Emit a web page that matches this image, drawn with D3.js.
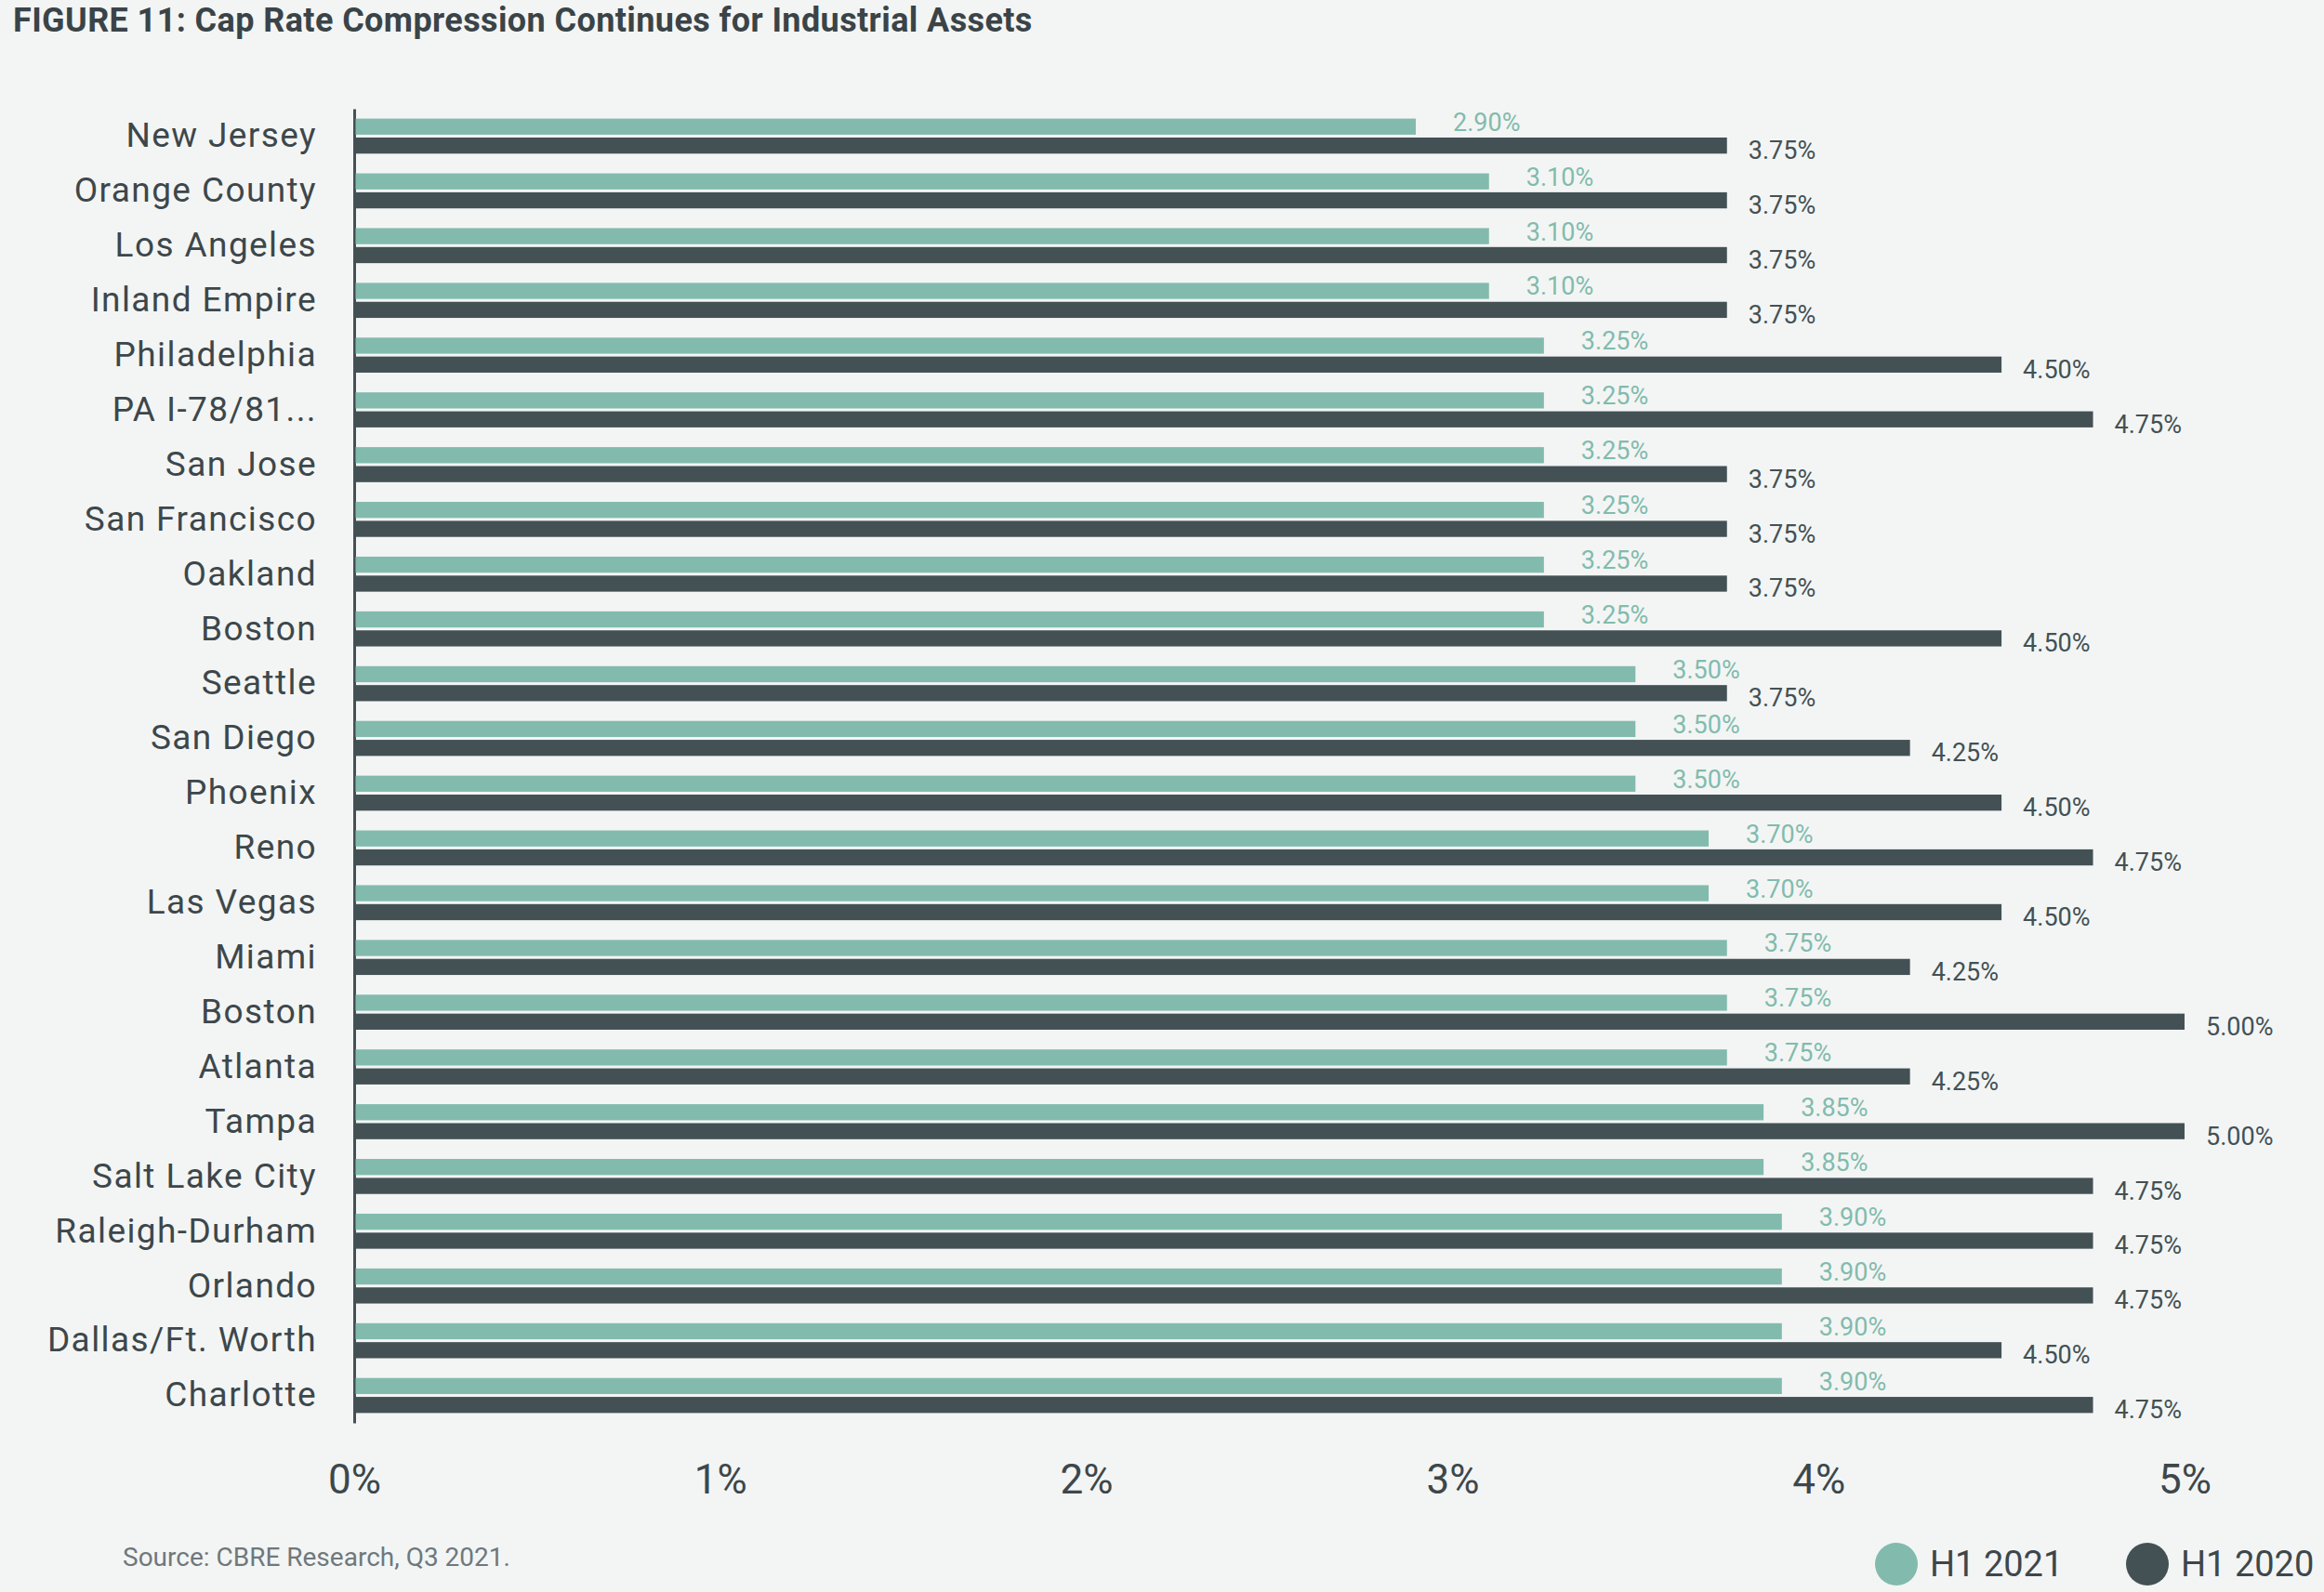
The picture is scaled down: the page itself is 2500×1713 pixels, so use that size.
<!DOCTYPE html>
<html>
<head>
<meta charset="utf-8">
<script src="https://cdn.jsdelivr.net/npm/d3@7"></script>
<style>
  html, body { margin: 0; padding: 0; background: #f3f5f4; }
  svg { display: block; font-family: Roboto, "Noto Sans", sans-serif; }
</style>
</head>
<body>
<svg id="chart" width="2500" height="1713"></svg>
<script>
// Markets, top to bottom (Boston appears twice in the source)
let markets = [
    'New Jersey', 'Orange County', 'Los Angeles', 'Inland Empire', 'Philadelphia',
    'PA I-78/81...', 'San Jose', 'San Francisco', 'Oakland', 'Boston', 'Seattle',
    'San Diego', 'Phoenix', 'Reno', 'Las Vegas', 'Miami', 'Boston', 'Atlanta',
    'Tampa', 'Salt Lake City', 'Raleigh-Durham', 'Orlando', 'Dallas/Ft. Worth', 'Charlotte'
];
let seriesNames = ['H1 2021', 'H1 2020'];
let h1_2021 = [2.90, 3.10, 3.10, 3.10, 3.25, 3.25, 3.25, 3.25, 3.25, 3.25, 3.50, 3.50,
    3.50, 3.70, 3.70, 3.75, 3.75, 3.75, 3.85, 3.85, 3.90, 3.90, 3.90, 3.90];
let h1_2020 = [3.75, 3.75, 3.75, 3.75, 4.50, 4.75, 3.75, 3.75, 3.75, 4.50, 3.75, 4.25,
    4.50, 4.75, 4.50, 4.25, 5.00, 4.25, 5.00, 4.75, 4.75, 4.75, 4.50, 4.75];
let xTicks = [0, 1, 2, 3, 4, 5];

let colors = { 'H1 2021': '#82bbad', 'H1 2020': '#435155' };
let textColor = '#3d474b';

let svg = d3.select('#chart');

svg.append('rect')
    .attr('width', 2500)
    .attr('height', 1713)
    .attr('fill', '#f3f5f4');

// Title
svg.append('text')
    .attr('x', 14)
    .attr('y', 34)
    .attr('font-size', 36)
    .attr('font-weight', 700)
    .attr('letter-spacing', 0.4)
    .attr('fill', '#3a4448')
    .text('FIGURE 11: Cap Rate Compression Continues for Industrial Assets');

// Scales
let x = d3.scaleLinear()
    .domain([0, 5])
    .range([381, 2350]);

let y = d3.scaleBand()
    .domain(markets.map((d, i) => i))
    .range([117, 1531])
    .paddingInner(0.36)
    .paddingOuter(0.18);

let ySub = d3.scaleBand()
    .domain(seriesNames)
    .range([0, y.bandwidth()])
    .paddingInner(0.15);

// Category axis (vertical line + market names)
let yAxis = svg.append('g')
    .attr('transform', `translate(${x(0)},0)`)
    .call(d3.axisLeft(y).tickSize(0).tickSizeOuter(0).tickPadding(40)
        .tickFormat((i) => markets[i]));
yAxis.select('.domain')
    .attr('stroke', '#435155')
    .attr('stroke-width', 3);
yAxis.selectAll('text')
    .attr('font-size', 37)
    .attr('font-family', 'Roboto, sans-serif')
    .attr('letter-spacing', 1.4)
    .attr('fill', textColor);

// Value axis labels only
let xAxis = svg.append('g')
    .attr('transform', 'translate(0,1531)')
    .call(d3.axisBottom(x).tickValues(xTicks).tickSize(0)
        .tickFormat((d) => d + '%'));
xAxis.select('.domain').remove();
xAxis.selectAll('text')
    .attr('y', 61)
    .attr('dy', '0.35em')
    .attr('font-size', 44)
    .attr('font-family', 'Roboto, sans-serif')
    .attr('fill', textColor);

// Bars
let rows = markets.map((m, i) => ({
    i: i,
    values: [
        { key: 'H1 2021', value: h1_2021[i] },
        { key: 'H1 2020', value: h1_2020[i] }
    ]
}));

let groups = svg.selectAll('g.row')
    .data(rows)
    .enter()
    .append('g')
    .attr('class', 'row')
    .attr('transform', (d) => `translate(0,${y(d.i)})`);

groups.selectAll('rect')
    .data((d) => d.values)
    .enter()
    .append('rect')
    .attr('x', x(0) + 1.5)
    .attr('y', (d) => ySub(d.key))
    .attr('width', (d) => x(d.value) - x(0) - 1.5)
    .attr('height', ySub.bandwidth())
    .attr('fill', (d) => colors[d.key]);

// Value labels
groups.selectAll('text.value')
    .data((d) => d.values)
    .enter()
    .append('text')
    .attr('class', 'value')
    .attr('x', (d) => x(d.value) + (d.key === 'H1 2021' ? 40 : 23))
    .attr('y', (d) => ySub(d.key) + ySub.bandwidth() / 2 + (d.key === 'H1 2021' ? -5 : 5))
    .attr('dy', '0.35em')
    .attr('font-size', 27)
    .attr('fill', (d) => colors[d.key])
    .text((d) => d.value.toFixed(2) + '%');

// Source note
svg.append('text')
    .attr('x', 132)
    .attr('y', 1675)
    .attr('dy', '0.35em')
    .attr('font-size', 28)
    .attr('fill', '#6f787c')
    .text('Source: CBRE Research, Q3 2021.');

// Legend
let legend = svg.selectAll('g.legend')
    .data(seriesNames)
    .enter()
    .append('g')
    .attr('class', 'legend')
    .attr('transform', (d, i) => `translate(${i === 0 ? 2040 : 2310},1683)`);

legend.append('circle')
    .attr('r', 23)
    .attr('fill', (d) => colors[d]);

legend.append('text')
    .attr('x', 36)
    .attr('dy', '0.35em')
    .attr('font-size', 38)
    .attr('fill', textColor)
    .text((d) => d);
</script>
</body>
</html>
